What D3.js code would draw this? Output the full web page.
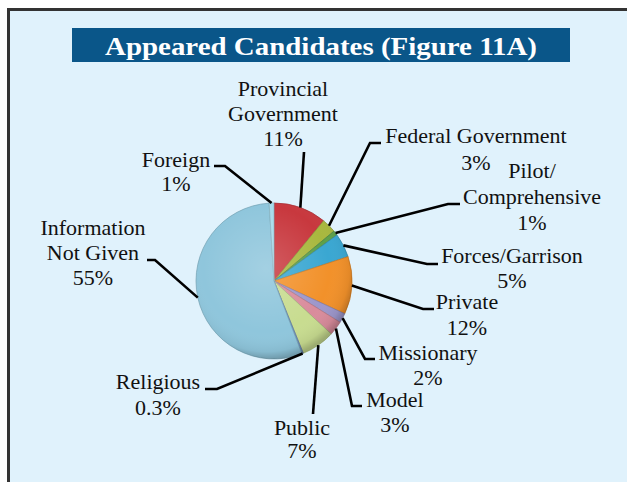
<!DOCTYPE html>
<html><head><meta charset="utf-8">
<script src="https://cdn.jsdelivr.net/npm/d3@7"></script>
<style>html,body{margin:0;padding:0;background:#fff;}svg{display:block;}</style>
</head><body>
<svg id="c" width="627" height="482"></svg>
<script>
const categories = ["Provincial Government","Federal Government","Pilot/Comprehensive","Forces/Garrison","Private","Missionary","Model","Public","Religious","Information Not Given","Foreign"];
const values = [11,3,1,5,12,2,3,7,0.3,55,1];
const valueLabels = ["11%","3%","1%","5%","12%","2%","3%","7%","0.3%","55%","1%"];
const labelLines = [["Provincial","Government"],["Federal Government"],["Pilot/","Comprehensive"],["Forces/Garrison"],["Private"],["Missionary"],["Model"],["Public"],["Religious"],["Information","Not Given"],["Foreign"]];
const colors = ["#c8383e","#a9b83e","#5da04a","#3aa7d2","#f2912a","#9d97cb","#d98c9c","#c8dc90","#6f90c4","#8fc6dc","#a8dcec"];

const FONT = "'Liberation Serif', 'Times New Roman', serif";
// label layout: text anchor x, first baseline y, elbow points
const layout = {
  "Provincial Government": {x:283, y:96, path:[[304,152]], lh:25},
  "Federal Government":    {x:476, y:143, path:[[381,143],[370,143]], lh:27},
  "Pilot/Comprehensive":   {x:532, y:178, path:[[460,204],[448,204]], lh:26},
  "Forces/Garrison":       {x:512, y:263, path:[[438,264],[427,264]], lh:25},
  "Private":               {x:467, y:309, path:[[434,309],[423,309]], lh:26},
  "Missionary":            {x:428, y:360, path:[[375,359],[365,359]], lh:25},
  "Model":                 {x:395, y:407, path:[[362,406],[352,406]], lh:25},
  "Public":                {x:302, y:435, path:[[313,414]], lh:23},
  "Religious":             {x:158, y:389, path:[[205,389],[217,389]], lh:26},
  "Information Not Given": {x:93, y:235, path:[[147,260],[155,260]], lh:25},
  "Foreign":               {x:176, y:167, path:[[214,166],[225,166]], lh:24}
};

const svg = d3.select("#c");
// panel
svg.append("rect").attr("x",8.5).attr("y",9.5).attr("width",640).attr("height",500)
  .attr("fill","#e0f2fc").attr("stroke","#333").attr("stroke-width",3);
// title
svg.append("rect").attr("x",72).attr("y",28).attr("width",498).attr("height",34).attr("fill","#0a5689");
svg.append("text").attr("x",105).attr("y",55)
  .style("font-family",FONT).attr("font-weight","bold")
  .attr("font-size",26).attr("fill","#fff")
  .attr("textLength",432).attr("lengthAdjust","spacingAndGlyphs")
  .text("Appeared Candidates (Figure 11A)");

const cx = 274, cy = 281, R = 78;
const data = categories.map((c,i)=>({name:c, value:values[i], color:colors[i], vl:valueLabels[i], lines:labelLines[i]}));
const pie = d3.pie().value(d=>d.value).sort(null).startAngle(0).endAngle(2*Math.PI);
const arcs = pie(data);
const arc = d3.arc().innerRadius(0).outerRadius(R);

const defs = svg.append("defs");
const rg = defs.append("radialGradient").attr("id","shade").attr("cx","45%").attr("cy","42%").attr("r","58%");
rg.append("stop").attr("offset","0%").attr("stop-color","#fff").attr("stop-opacity",0.18);
rg.append("stop").attr("offset","70%").attr("stop-color","#fff").attr("stop-opacity",0.0);
rg.append("stop").attr("offset","92%").attr("stop-color","#000").attr("stop-opacity",0.06);
rg.append("stop").attr("offset","100%").attr("stop-color","#000").attr("stop-opacity",0.22);

const g = svg.append("g").attr("transform",`translate(${cx},${cy})`);
g.selectAll("path.slice").data(arcs).join("path").attr("class","slice")
  .attr("d",arc).attr("fill",d=>d.data.color)
  .attr("stroke",d=>d3.color(d.data.color).darker(0.6)).attr("stroke-width",0.7);
g.append("circle").attr("r",R).attr("fill","url(#shade)");

// leader lines
const lineGen = d3.line();
arcs.forEach(a=>{
  const L = layout[a.data.name];
  const m = (a.startAngle+a.endAngle)/2;
  const p0 = [cx + R*Math.sin(m), cy - R*Math.cos(m)];
  const pts = [p0].concat(L.path.slice().reverse());
  svg.append("path").attr("d",lineGen(pts)).attr("fill","none").attr("stroke","#000").attr("stroke-width",2.6);
});

// labels
arcs.forEach(a=>{
  const L = layout[a.data.name];
  const lines = a.data.lines.concat([a.data.vl]);
  const t = svg.append("text").attr("text-anchor","middle")
    .style("font-family",FONT).attr("font-size",22).attr("fill","#111");
  lines.forEach((s,i)=>{
    t.append("tspan").attr("x",L.x).attr("y",L.y + i*L.lh).text(s);
  });
});
</script>
</body></html>
